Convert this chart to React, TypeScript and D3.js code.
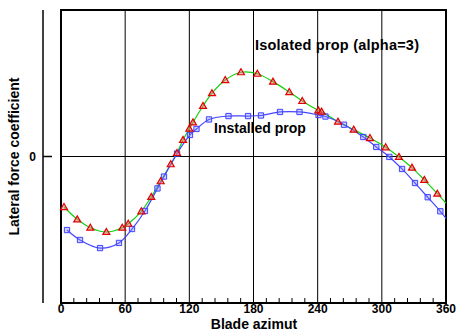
import React from "react";
import * as d3 from "d3";

// Isolated prop (alpha=3): markers (azimuth deg, coefficient)
const isoAz = [2.8, 15.2, 27.4, 42.4, 57.3, 62.9, 75.1, 84.4, 93.2, 102.6, 108.5, 114.1, 120.0, 123.4, 132.8, 141.2, 153.6, 168.3, 183.6, 198.2, 213.5, 225.6, 240.6, 243.6, 259.0, 273.7, 288.9, 303.6, 316.0, 328.2, 339.7, 351.9];
const isoVal = [-0.345, -0.429, -0.486, -0.515, -0.486, -0.459, -0.374, -0.276, -0.169, -0.053, 0.024, 0.113, 0.19, 0.233, 0.345, 0.432, 0.522, 0.575, 0.565, 0.511, 0.44, 0.379, 0.315, 0.306, 0.238, 0.183, 0.126, 0.063, -0.003, -0.076, -0.16, -0.254];
const isoEnd = [360, -0.319];

// Installed prop
const instAz = [5.6, 17.8, 36.5, 54.2, 66.4, 78.5, 90.2, 96.3, 108.5, 120.6, 126.7, 138.4, 156.6, 174.9, 187.0, 204.8, 223.0, 240.8, 247.3, 264.6, 282.7, 294.8, 307.0, 318.9, 331.0, 342.9, 354.7];
const instVal = [-0.502, -0.57, -0.625, -0.59, -0.495, -0.372, -0.218, -0.137, 0.02, 0.147, 0.188, 0.253, 0.276, 0.276, 0.28, 0.304, 0.304, 0.283, 0.273, 0.217, 0.133, 0.065, -0.003, -0.085, -0.181, -0.278, -0.374];
const instEnd = [360, -0.422];

const xTicks = [0, 60, 120, 180, 240, 300, 360];
const xMinor = d3.range(0, 361, 12).filter((d) => d % 60 !== 0);
const yTicks = [0];

const W = 458, H = 332;
const left = 61, right = 446, top = 10, bottom = 303;
const FONT = "'Liberation Sans', Arial, sans-serif";

export default function App() {
  const x = d3.scaleLinear().domain([0, 360]).range([left, right]);
  const y = d3.scaleLinear().domain([-1, 1]).range([bottom, top]);

  const iso = isoAz.map((a, i) => [a, isoVal[i]] as [number, number]);
  const inst = instAz.map((a, i) => [a, instVal[i]] as [number, number]);
  const isoLineData = [...iso, isoEnd as [number, number]];
  const instLineData = [...inst, instEnd as [number, number]];

  const line = d3
    .line<[number, number]>()
    .x((d) => x(d[0]))
    .y((d) => y(d[1]))
    .curve(d3.curveCatmullRom.alpha(0.5));

  const tri = d3.symbol().type(d3.symbolTriangle).size(21)() as string;
  const sq = d3.symbol().type(d3.symbolSquare).size(28)() as string;

  return (
    <svg width={W} height={H} style={{ position: "absolute", left: 0, top: 0, background: "#fff" }} fontFamily={FONT}>
      <rect x={0} y={0} width={W} height={H} fill="#fff" />
      {/* grid */}
      {xTicks.slice(1, -1).map((t) => (
        <line key={"g" + t} x1={x(t)} x2={x(t)} y1={top} y2={bottom} stroke="#000" strokeWidth={1} />
      ))}
      {yTicks.map((t) => (
        <line key={"gy" + t} x1={left} x2={right} y1={y(t)} y2={y(t)} stroke="#000" strokeWidth={1} />
      ))}
      {/* minor ticks */}
      {xMinor.map((t) => (
        <line key={"m" + t} x1={x(t)} x2={x(t)} y1={bottom} y2={bottom - 5} stroke="#000" strokeWidth={1} />
      ))}
      {/* frame */}
      <rect x={left} y={top} width={right - left} height={bottom - top} fill="none" stroke="#000" strokeWidth={2} />
      {/* y axis */}
      <line x1={43} x2={43} y1={top} y2={bottom} stroke="#000" strokeWidth={1.5} />
      {yTicks.map((t) => (
        <g key={"yt" + t}>
          <line x1={43} x2={52} y1={y(t)} y2={y(t)} stroke="#000" strokeWidth={1.5} />
          <text x={36} y={y(t) + 4} textAnchor="end" fontSize={12} fontWeight="bold">
            {t}
          </text>
        </g>
      ))}
      {xTicks.map((t) => (
        <text key={"xl" + t} x={x(t)} y={313} textAnchor="middle" fontSize={12} fontWeight="bold">
          {t}
        </text>
      ))}
      <text x={254} y={329} textAnchor="middle" fontSize={14} fontWeight="bold">
        Blade azimut
      </text>
      <text
        transform={`translate(19,${y(0)}) rotate(-90)`}
        textAnchor="middle"
        fontSize={14}
        fontWeight="bold"
      >
        Lateral force coefficient
      </text>
      {/* curves */}
      <path d={line(isoLineData) as string} fill="none" stroke="#10d010" strokeWidth={1.2} />
      <path d={line(instLineData) as string} fill="none" stroke="#4646ff" strokeWidth={1.2} />
      {inst.map((d, i) => (
        <path
          key={"s" + i}
          d={sq}
          transform={`translate(${x(d[0])},${y(d[1])})`}
          fill="rgba(120,130,255,0.35)"
          stroke="#4040ff"
          strokeWidth={1}
        />
      ))}
      {iso.map((d, i) => (
        <path
          key={"t" + i}
          d={tri}
          transform={`translate(${x(d[0])},${y(d[1]) + 0.5})`}
          fill="rgba(240,120,120,0.5)"
          stroke="#e00000"
          strokeWidth={1.2}
        />
      ))}
      <text x={255} y={50} fontSize={14.5} fontWeight="bold" textLength={164} lengthAdjust="spacing">
        Isolated prop (alpha=3)
      </text>
      <text x={214} y={133} fontSize={14} fontWeight="bold">
        Installed prop
      </text>
    </svg>
  );
}
